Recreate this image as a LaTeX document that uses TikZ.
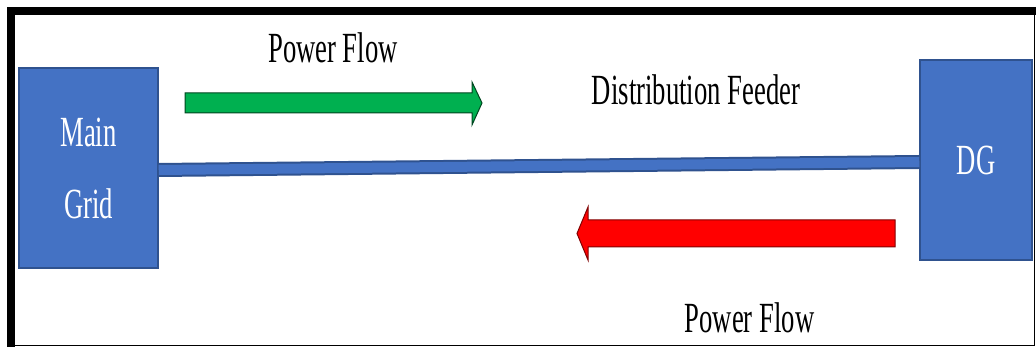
\documentclass[tikz,border=0pt]{standalone}
\usepackage{fontspec}
\setmainfont{Liberation Serif}[FakeStretch=0.62]
\definecolor{boxblue}{HTML}{4472C4}
\definecolor{edgeblue}{HTML}{2F528F}
\definecolor{flowgreen}{HTML}{00B050}
\definecolor{flowred}{HTML}{FF0000}
\tikzset{
  bus/.style={draw=edgeblue, fill=boxblue, line width=1.5pt, minimum width=#1,
    minimum height=200pt, inner sep=0pt, text=white,
    font=\fontsize{43}{72}\selectfont, align=center},
  flowtext/.style={font=\fontsize{43}{52}\selectfont, inner sep=0pt, anchor=base},
  feeder/.style={draw=edgeblue, line width=2pt, double=boxblue, double distance=10pt}
}
\begin{document}
\begin{tikzpicture}[x=1pt, y=1pt]
\useasboundingbox (0,0) rectangle (1036,347);
% Frame
\draw[line width=8pt] (11,0) -- (11,336) -- (1036,336);
\draw[line width=1pt] (11,1) -- (1034,1) -- (1034,336);

% Main grid and DG
\node[bus=139pt] (main) at (88.5,179) {Main\\Grid};
\node[bus=112pt] (dg) at (976,187) {DG};

% Feeder
\draw[feeder] ([yshift=-2pt]main.east) -- ([yshift=-2pt]dg.west);

% Power flow, grid to DG
\draw[fill=flowgreen, draw=black!60!flowgreen, line width=1pt]
  (185,254) -- (472,254) -- (472,265) -- (482,244) -- (472,222) -- (472,234) -- (185,234) -- cycle;
% Power flow, DG to grid
\draw[fill=flowred, draw=black!50!flowred, line width=1pt]
  (895,127) -- (588,127) -- (588,140) -- (577,113.5) -- (588,87) -- (588,100) -- (895,100) -- cycle;

% Labels
\node[flowtext] (flowtop) at (333,284) {Power Flow};
\node[flowtext] (feedertext) at (696,242) {Distribution Feeder};
\node[flowtext] (flowbottom) at (749.5,14) {Power Flow};
\end{tikzpicture}
\end{document}
